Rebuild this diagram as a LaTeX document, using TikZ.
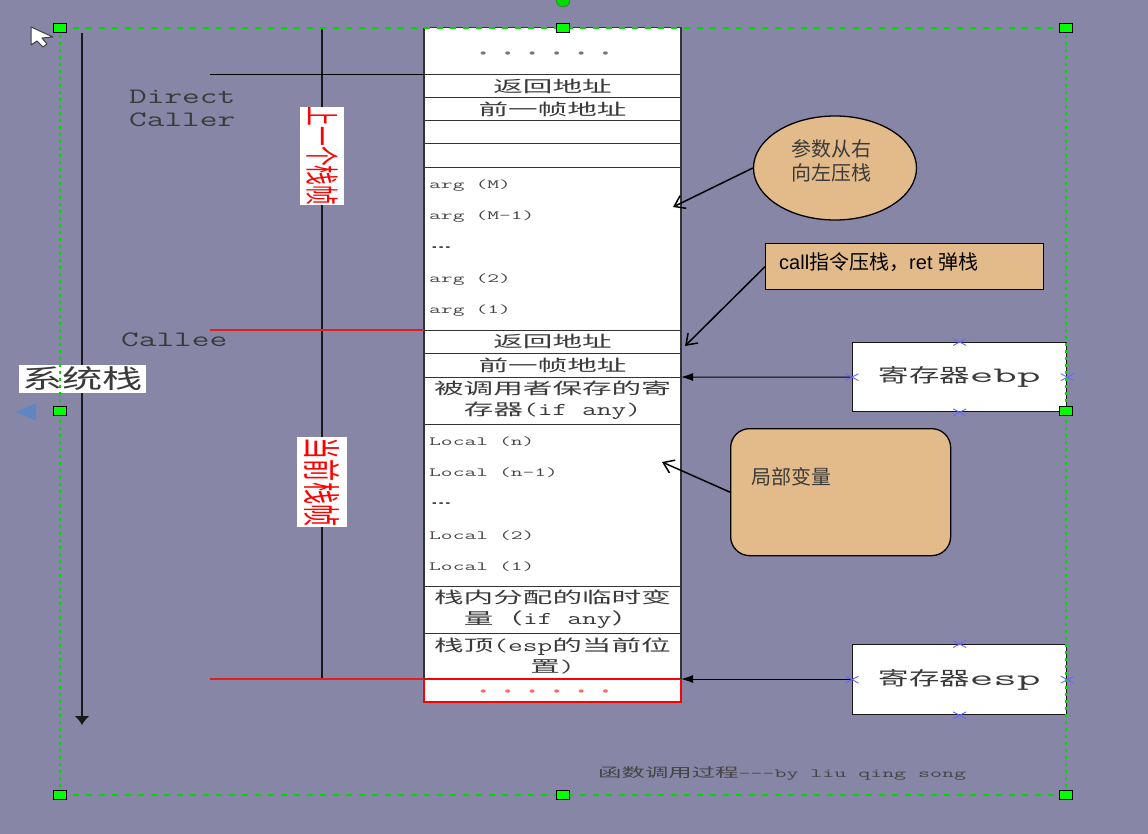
\documentclass[tikz,border=0pt]{standalone}
\usepackage{fontspec}
\usepackage{graphicx}
\setmainfont{Liberation Sans}
\newfontfamily\cjk{Noto Sans CJK SC}
\usetikzlibrary{arrows.meta,shapes.geometric,shapes.misc,calc}
\definecolor{bgc}{HTML}{8886A6}
\definecolor{tanc}{HTML}{E3BB8B}
\definecolor{txt}{HTML}{3A3A3A}
\definecolor{soft}{HTML}{444444}
\definecolor{hgreen}{HTML}{00FF00}
\definecolor{redrule}{HTML}{E02020}
\definecolor{marker}{HTML}{5F86C0}
\definecolor{xblue}{HTML}{6666FF}
\definecolor{dotgray}{HTML}{777777}
\newcommand{\sx}[3]{\scalebox{#1}[1]{\fontsize{#2}{#2}\selectfont #3}}
\tikzset{
  x=1pt,y=-1pt,
  rowbox/.style={draw=black!80,line width=1pt,fill=white,minimum width=257pt,inner sep=0pt,outer sep=0pt,align=center,text=txt,anchor=north west,font=\fontsize{16}{20.5}\selectfont},
  vline/.style={draw=black!90,line width=1.5pt},
  hline/.style={line width=1pt},
  redline/.style={line width=1.3pt,draw=redrule},
  leftlab/.style={anchor=west,inner sep=0pt,text=soft},
  handle/.style={draw=black,fill=hgreen,minimum width=13pt,minimum height=9pt,inner sep=0pt,line width=1.2pt},
  ptr/.style={draw=black,line width=1.5pt,-{Straight Barb[length=10pt,width=14pt,line width=1.5pt]}},
  tip/.style={draw=black,line width=1pt,-{Latex[length=12pt,width=8pt]}},
  regbox/.style={draw=black!90,line width=1.3pt,fill=white,minimum width=214pt,minimum height=69pt,inner sep=0pt,text=txt},
  xmark/.style={cross out,draw=xblue,line width=.9pt,minimum width=12pt,minimum height=6pt,inner sep=0pt},
  redlab/.style={fill=white,text=red,inner sep=0pt,rotate=-90,anchor=center},
  notebox/.style={draw=black,line width=1.3pt,fill=tanc,inner sep=0pt},
  sel/.style={draw=hgreen!85!black,line width=1.2pt},
  dotsnode/.style={inner sep=0pt},
}
\newcommand{\ct}[1]{\sx{1.85}{16}{\cjk #1}}
\newcommand{\mt}[1]{\sx{1.59}{18}{\ttfamily #1}}
\newcommand{\lt}[1]{\sx{1.83}{12.5}{\ttfamily #1}}
\newcommand{\dotline}{\sx{1.5}{12}{•\hspace{12.1pt}•\hspace{12.1pt}•\hspace{12.1pt}•\hspace{12.1pt}•\hspace{12.1pt}•}}
\newcommand{\ddd}{\sx{2}{12}{\bfseries ...}}
\begin{document}
\begin{tikzpicture}
\useasboundingbox (0,0) rectangle (1148,834);
\fill[bgc] (0,0) rectangle (1148,834);
% side rules
\coordinate (axtop) at (82,33);
\coordinate (axbot) at (82,725);
\coordinate (frtop) at (322,28);
\coordinate (frbot) at (322,679);
\coordinate (l1) at (210,75);
\coordinate (l2) at (210,330);
\coordinate (l3) at (210,679);
\draw[vline,-{Latex[length=9pt,width=15pt]}] (axtop) -- (axbot);
\draw[vline] (frtop) -- (frbot);
% stack rows
\node[rowbox,minimum height=47pt] (r1) at (424,28) {};
\node[rowbox,minimum height=23pt] (r2) at (424,75) {\ct{返回地址}};
\node[rowbox,minimum height=23pt] (r3) at (424,98) {\ct{前一帧地址}};
\node[rowbox,minimum height=23pt] (r4) at (424,121) {};
\node[rowbox,minimum height=24pt] (r5) at (424,144) {};
\node[rowbox,minimum height=162pt] (r6) at (424,168) {};
\node[rowbox,minimum height=23pt] (r7) at (424,330) {\ct{返回地址}};
\node[rowbox,minimum height=24pt] (r8) at (424,353) {\ct{前一帧地址}};
\node[rowbox,minimum height=47pt] (r9) at (424,377) {\ct{被调用者保存的寄}\\\ct{存器}\mt{(if any)}};
\node[rowbox,minimum height=162pt] (r10) at (424,424) {};
\node[rowbox,minimum height=47pt] (r11) at (424,586) {\ct{栈内分配的临时变}\\\ct{量（}\mt{if any}\ct{）}};
\node[rowbox,minimum height=46pt] (r12) at (424,633) {\ct{栈顶}\mt{(esp}\ct{的当前位}\\\ct{置}\mt{)}};
\node[rowbox,draw=red,line width=1.2pt,minimum height=23pt] (r13) at (424,679) {};
\node[dotsnode,text=dotgray] (d1) at (544.5,54.5) {\dotline};
\node[dotsnode,text=red!60] (d2) at (544.5,692.5) {\dotline};
% heavier sides of the stack
\draw[black!80,line width=1.6pt] (r1.north west) -- (r12.south west);
\draw[black!80,line width=1.6pt] (r1.north east) -- (r12.south east);
% row leaders
\draw[hline,black] (l1) -- (r2.north west);
\draw[redline] (l2) -- (r7.north west);
\draw[redline] (l3) -- (r13.north west);
% row contents
\node[leftlab] (a1) at (429,186) {\lt{arg}\hspace{11pt}\lt{(M)}};
\node[leftlab] (a2) at (429,217) {\lt{arg}\hspace{11pt}\lt{(M-1)}};
\node[leftlab] (a3) at (431,248) {\ddd};
\node[leftlab] (a4) at (429,280) {\lt{arg}\hspace{11pt}\lt{(2)}};
\node[leftlab] (a5) at (429,311) {\lt{arg}\hspace{11pt}\lt{(1)}};
\node[leftlab] (b1) at (429,442) {\lt{Local}\hspace{11pt}\lt{(n)}};
\node[leftlab] (b2) at (429,473) {\lt{Local}\hspace{11pt}\lt{(n-1)}};
\node[leftlab] (b3) at (431,504) {\ddd};
\node[leftlab] (b4) at (429,536) {\lt{Local}\hspace{11pt}\lt{(2)}};
\node[leftlab] (b5) at (429,567) {\lt{Local}\hspace{11pt}\lt{(1)}};
% left labels
\node[anchor=west,inner sep=0pt,text=txt,align=left,font=\fontsize{20}{23}\selectfont] (dc) at (129,108) {\sx{1.56}{22}{\ttfamily Direct}\\\sx{1.56}{22}{\ttfamily Caller}};
\node[anchor=west,inner sep=0pt,text=txt] (ce) at (121,340) {\sx{1.56}{22}{\ttfamily Callee}};
\node[redlab,minimum width=98pt,minimum height=44pt] (f1) at (322,156) {\sx{.58}{34}{\cjk 上一个栈帧}};
\node[redlab,minimum width=90pt,minimum height=50pt] (f2) at (322,482) {\sx{.58}{38}{\cjk 当前栈帧}};
\node[fill=white,text=txt,inner sep=0pt,minimum width=127pt,minimum height=28pt] (sys) at (82.5,379) {\sx{1.55}{26}{\cjk 系统栈}};
% notes
\node[ellipse,notebox,minimum width=163pt,minimum height=104pt] (n1) at (835,168) {};
\node[inner sep=0pt,align=center,text=txt,font=\fontsize{20}{24}\selectfont] (n1t) at (831.5,161) {\cjk 参数从右\\\cjk 向左压栈};
\node[notebox,anchor=north west,minimum width=278pt,minimum height=46pt] (n2) at (765,243) {};
\node[anchor=west,inner sep=0pt,text=black] (n2t) at (779,262) {\fontsize{20}{20}\selectfont call{\cjk 指令压栈，}ret {\cjk 弹栈}};
\node[notebox,rounded corners=19pt,anchor=north west,minimum width=220pt,minimum height=127pt] (n3) at (730,428) {};
\node[anchor=west,inner sep=0pt,text=txt] (n3t) at (751,477) {\fontsize{20}{20}\selectfont\cjk 局部变量};
\coordinate (p1) at (673,207);
\coordinate (p2) at (685,346);
\coordinate (p3) at (662,462);
\draw[ptr] (n1.west) -- (p1);
\draw[ptr] (n2.west) -- (p2);
\draw[ptr] (n3.west) -- (p3);
% registers
\node[regbox,anchor=north west] (ebp) at (852,342) {\sx{1.6}{19}{\cjk 寄存器}\sx{2.08}{22}{\ttfamily ebp}};
\node[regbox,minimum height=70pt,anchor=north west] (esp) at (852,644) {\sx{1.6}{19}{\cjk 寄存器}\sx{2.08}{22}{\ttfamily esp}};
\draw[tip] (ebp.west) -- (r9.north east);
\draw[tip] (esp.west |- r13.north east) -- (r13.north east);
\foreach \b in {ebp,esp}{
  \foreach \a in {north,south,east,west}{
    \node[xmark] at (\b.\a) {};
  }
}
% selection frame
\coordinate (s1) at (60,28);
\coordinate (s2) at (1066,28);
\coordinate (s3) at (1066,795);
\coordinate (s4) at (60,795);
\draw[sel,dash pattern=on 6pt off 7pt] (s1) -- (s2);
\draw[sel,dash pattern=on 6pt off 7pt] (s4) -- (s3);
\draw[sel,dash pattern=on 3pt off 4pt] (s1) -- (s4);
\draw[sel,dash pattern=on 3pt off 4pt] (s2) -- (s3);
\node[handle] (h1) at (s1) {};
\node[handle] (h2) at (563,28) {};
\node[handle] (h3) at (s2) {};
\node[handle] (h4) at (60,411) {};
\node[handle] (h5) at (1066,411) {};
\node[handle] (h6) at (s4) {};
\node[handle] (h7) at (563,795) {};
\node[handle] (h8) at (s3) {};
\fill[hgreen!85!black,draw=black!70] (563,0) circle (7pt);
% bottom caption
\node[anchor=west,inner sep=0pt,text=soft] (cap) at (598,773) {\sx{1.8}{13}{\cjk 函数调用过程}\sx{1.86}{12.5}{\ttfamily ---by liu qing song}};
% cursor and marker
\draw[fill=white,draw=black!75,line width=1pt,line join=round] (31,27) -- (31,45) -- (37,41) -- (43,47) -- (47,44) -- (42,38) -- (53,37) -- cycle;
\fill[marker] (36,403) -- (36,421) -- (16,412) -- cycle;
\end{tikzpicture}
\end{document}
